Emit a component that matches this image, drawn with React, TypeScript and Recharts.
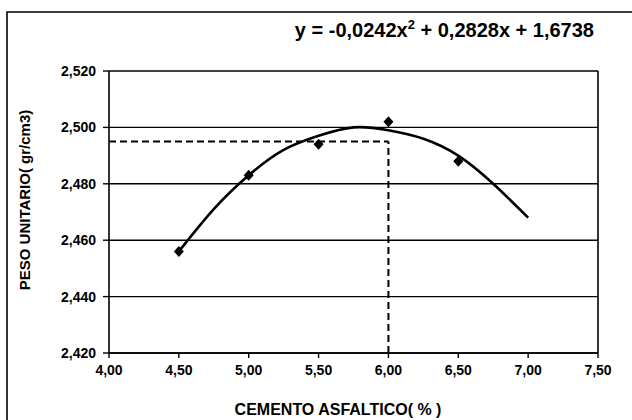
import { ComposedChart, Line, Scatter, XAxis, YAxis, CartesianGrid, ReferenceLine } from 'recharts';

const pointX = [4.5, 5.0, 5.5, 6.0, 6.5];
const pointY = [2.456, 2.483, 2.494, 2.502, 2.488];

// trend curve (polynomial fit drawn from 4,50 to 7,00)
const curveX = [4.5, 4.75, 5.0, 5.25, 5.5, 5.75, 6.0, 6.25, 6.5, 6.75, 7.0];
const curveY = [2.456, 2.471, 2.483, 2.492, 2.497, 2.5, 2.499, 2.496, 2.49, 2.48, 2.468];

const xTicks = [4.0, 4.5, 5.0, 5.5, 6.0, 6.5, 7.0, 7.5];
const yTicks = [2.42, 2.44, 2.46, 2.48, 2.5, 2.52];

const optimumX = 6.0;
const optimumY = 2.495;

const FONT = '"Liberation Sans", Arial, sans-serif';

const points = pointX.map((x, i) => ({ x, y: pointY[i] }));
const curve = curveX.map((x, i) => ({ x, y: curveY[i] }));

function Diamond({ cx, cy }: any) {
  if (cx == null || cy == null) return null;
  return <polygon points={`${cx},${cy - 5.5} ${cx + 5},${cy} ${cx},${cy + 5.5} ${cx - 5},${cy}`} fill="#000" />;
}

export default function App() {
  const tick = { fill: '#000', fontSize: 14, fontWeight: 700, fontFamily: FONT };
  return (
    <div style={{ position: 'absolute', left: 0, top: 0, width: 632, height: 420, background: '#fff', overflow: 'hidden' }}>
      <ComposedChart width={632} height={420} margin={{ top: 71, right: 34, bottom: 0, left: 0 }}>
        <CartesianGrid vertical={false} stroke="#000" strokeWidth={1.4} />
        <XAxis
          dataKey="x"
          type="number"
          domain={[4, 7.5]}
          ticks={xTicks}
          tick={tick}
          tickFormatter={(v) => v.toFixed(2).replace('.', ',')}
          axisLine={{ stroke: '#000', strokeWidth: 1.6 }}
          tickLine={{ stroke: '#000', strokeWidth: 1.4 }}
          tickSize={5}
          tickMargin={7}
          height={67}
          allowDataOverflow
        />
        <YAxis
          dataKey="y"
          type="number"
          domain={[2.42, 2.52]}
          ticks={yTicks}
          tick={tick}
          tickFormatter={(v) => v.toFixed(3).replace('.', ',')}
          axisLine={{ stroke: '#000', strokeWidth: 1.6 }}
          tickLine={{ stroke: '#000', strokeWidth: 1.4 }}
          tickSize={6}
          tickMargin={7}
          width={109}
          allowDataOverflow
        />
        <ReferenceLine x={7.5} stroke="#000" strokeWidth={1.6} />
        <ReferenceLine
          segment={[{ x: 4, y: optimumY }, { x: optimumX, y: optimumY }]}
          stroke="#000"
          strokeWidth={2}
          strokeDasharray="7 4"
        />
        <ReferenceLine
          segment={[{ x: optimumX, y: 2.42 }, { x: optimumX, y: optimumY }]}
          stroke="#000"
          strokeWidth={2}
          strokeDasharray="7 4"
        />
        <Line data={curve} dataKey="y" type="natural" stroke="#000" strokeWidth={2.6} dot={false} isAnimationActive={false} />
        <Scatter data={points} dataKey="y" shape={<Diamond />} isAnimationActive={false} />
      </ComposedChart>
      <svg width={632} height={420} style={{ position: 'absolute', left: 0, top: 0, pointerEvents: 'none' }}>
        <polyline points="7,420 7,12 632,12" fill="none" stroke="#000" strokeWidth={1.6} />
        <text x={594} y={37} textAnchor="end" fontFamily={FONT} fontSize={20} fontWeight={700} fill="#000">
          y = -0,0242x<tspan dy={-8} fontSize={13}>2</tspan>
          <tspan dy={8}> + 0,2828x + 1,6738</tspan>
        </text>
        <text
          x={0}
          y={0}
          transform="translate(30,200) rotate(-90)"
          textAnchor="middle"
          fontFamily={FONT}
          fontSize={15}
          fontWeight={700}
          fill="#000"
        >
          PESO UNITARIO( gr/cm3)
        </text>
        <text x={338} y={415} textAnchor="middle" fontFamily={FONT} fontSize={16} fontWeight={700} fill="#000">
          CEMENTO ASFALTICO( % )
        </text>
      </svg>
    </div>
  );
}
